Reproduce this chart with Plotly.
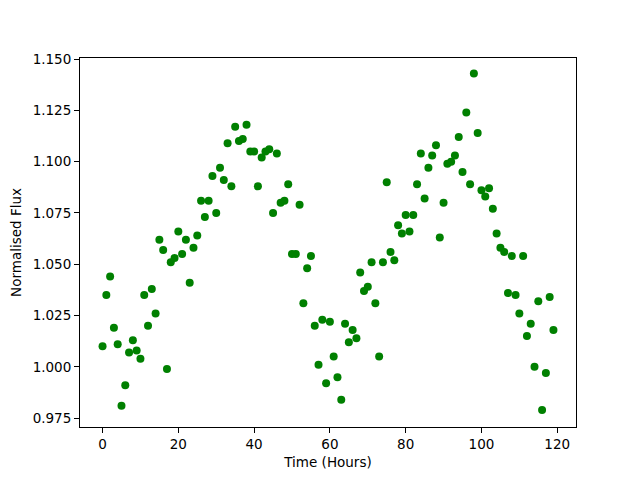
import plotly.graph_objects as go

time_hours = list(range(120))
flux = [
    1.010, 1.035, 1.044, 1.019, 1.011, 0.981, 0.991, 1.007, 1.013, 1.008,
    1.004, 1.035, 1.020, 1.038, 1.026, 1.062, 1.057, 0.999, 1.051, 1.053,
    1.066, 1.055, 1.062, 1.041, 1.058, 1.064, 1.081, 1.073, 1.081, 1.093,
    1.075, 1.097, 1.091, 1.109, 1.088, 1.117, 1.110, 1.111, 1.118, 1.105,
    1.105, 1.088, 1.102, 1.105, 1.106, 1.075, 1.104, 1.080, 1.081, 1.089,
    1.055, 1.055, 1.079, 1.031, 1.048, 1.054, 1.020, 1.001, 1.023, 0.992,
    1.022, 1.005, 0.995, 0.984, 1.021, 1.012, 1.018, 1.014, 1.046, 1.037,
    1.039, 1.051, 1.031, 1.005, 1.051, 1.090, 1.056, 1.052, 1.069, 1.065,
    1.074, 1.066, 1.074, 1.089, 1.104, 1.082, 1.097, 1.103, 1.108, 1.063,
    1.080, 1.099, 1.100, 1.103, 1.112, 1.095, 1.124, 1.089, 1.143, 1.114,
    1.086, 1.083, 1.087, 1.077, 1.065, 1.058, 1.056, 1.036, 1.054, 1.035,
    1.026, 1.054, 1.015, 1.021, 1.000, 1.032, 0.979, 0.997, 1.034, 1.018,
]
x_ticks = [0, 20, 40, 60, 80, 100, 120]
y_ticks = [0.975, 1.000, 1.025, 1.050, 1.075, 1.100, 1.125, 1.150]

fig = go.Figure(go.Scatter(
    x=time_hours, y=flux, mode="markers",
    marker=dict(color="#008000", size=8, line=dict(width=0)),
))

axis_common = dict(
    showgrid=False, zeroline=False, showline=True, linecolor="black",
    linewidth=1, mirror=True, ticks="outside", ticklen=5, tickwidth=1,
    tickcolor="black", automargin=False,
    tickfont=dict(family="DejaVu Sans", size=13.5, color="black"),
)
fig.update_xaxes(range=[-5.95, 124.95], tickvals=x_ticks,
                 ticktext=[str(v) for v in x_ticks],
                 title=dict(text="Time (Hours)", standoff=6,
                            font=dict(family="DejaVu Sans", size=13.5, color="black")),
                 **axis_common)
fig.update_yaxes(range=[0.9707, 1.1505], tickvals=y_ticks,
                 ticktext=[f"{v:.3f}" for v in y_ticks],
                 title=dict(text="Normalised Flux", standoff=8,
                            font=dict(family="DejaVu Sans", size=13.5, color="black")),
                 **axis_common)
fig.update_layout(
    width=632, height=472, plot_bgcolor="white", paper_bgcolor="white",
    margin=dict(l=72, r=64, t=50, b=53), showlegend=False,
    font=dict(family="DejaVu Sans", size=13.5, color="black"),
)
fig.write_html("out.html")
